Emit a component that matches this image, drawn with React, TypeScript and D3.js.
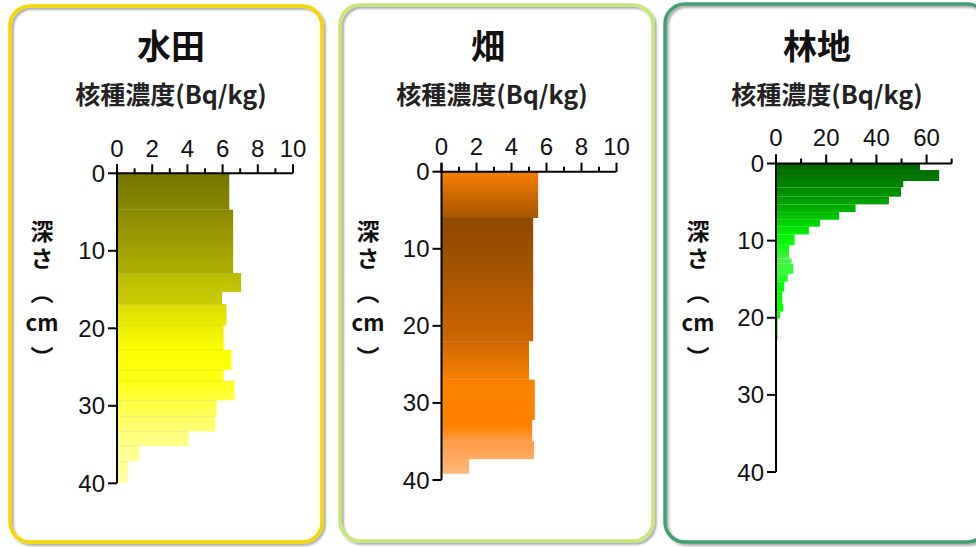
import React from 'react';
import * as d3 from 'd3';

// ---- Data (depth in cm, concentration in Bq/kg) ----
const titles = ['水田', '畑', '林地'];
const xAxisTitle = '核種濃度(Bq/kg)';
const yLabelTop = '深さ';
const yLabelRest = ['︵', 'cm', '︶'];

const paddyDepths = [0, 4.7, 12.9, 15.3, 16.9, 19.6, 22.8, 25.4, 26.8, 29.3, 31.4, 33.3, 35.2, 37.2, 40];
const paddyValues = [6.38, 6.6, 7.05, 5.97, 6.22, 6.06, 6.5, 6.06, 6.67, 5.66, 5.59, 4.07, 1.27, 0.64];

const fieldDepths = [0, 6, 22, 27, 32.2, 35, 37.3, 39.2];
const fieldValues = [5.52, 5.24, 5.0, 5.33, 5.18, 5.29, 1.58];

const forestDepths = [0, 0.85, 2.27, 3.1, 4.3, 5.3, 6.3, 7.3, 8.2, 9.2, 10.6, 12.3, 13.0, 14.3, 15.3, 16.6, 18.2, 19.2, 20.1, 22.9, 24.2];
const forestValues = [57.4, 65, 50.7, 49.8, 45.0, 31.7, 25.2, 17.5, 13.1, 7.4, 5.2, 6.2, 6.9, 4.7, 3.3, 2.5, 2.9, 1.6, 0.6, 0.3];

const paddyXTicks = [0, 2, 4, 6, 8, 10];
const forestXTicks = [0, 20, 40, 60];
const depthTicks = [0, 10, 20, 30, 40];

// ---- Styles / layout ----
const FONT = '"Liberation Sans", Arial, sans-serif';
const CJK = '"Noto Sans CJK JP", "Noto Sans", sans-serif';

type Panel = {
  title: string;
  depths: number[];
  values: number[];
  xMax: number;
  xStep: number;
  labelTicks: number[];
  box: { x: number; y: number; w: number; h: number };
  border: string;
  titleX: number;
  subX: number;
  px: [number, number];
  py: [number, number];
  tickLabelY: number;
  yLabelX: number;
  stops: [number, string][];
  seams: boolean;
};

const panels: Panel[] = [
  {
    title: titles[0], depths: paddyDepths, values: paddyValues, xMax: 10, xStep: 1, labelTicks: paddyXTicks,
    box: { x: 10, y: 6, w: 312, h: 536 }, border: '#f6d500', titleX: 171, subX: 171,
    px: [117, 293], py: [173.3, 483.3], tickLabelY: 148, yLabelX: 42,
    stops: [[0, '#747400'], [10, '#a2a200'], [12.9, '#aeae00'], [13, '#bcbc00'], [16.9, '#cccc00'], [17, '#dede00'], [20, '#eeee00'], [23, '#ffff00'], [27, '#ffff18'], [30, '#ffff48'], [34, '#ffff80'], [40, '#ffffaa']],
    seams: true,
  },
  {
    title: titles[1], depths: fieldDepths, values: fieldValues, xMax: 10, xStep: 1, labelTicks: paddyXTicks,
    box: { x: 340, y: 5, w: 313, h: 536 }, border: '#c6e874', titleX: 488, subX: 492,
    px: [441.5, 616.5], py: [171.7, 480], tickLabelY: 146.5, yLabelX: 368,
    stops: [[0, '#f88000'], [5.9, '#a85600'], [6, '#8f4800'], [12, '#a25200'], [20, '#c46200'], [22, '#d06800'], [24, '#e07200'], [27, '#fb8000'], [33, '#ff8200'], [35, '#ff9c45'], [39.2, '#ffb87a'], [40, '#ffb87a']],
    seams: true,
  },
  {
    title: titles[2], depths: forestDepths, values: forestValues, xMax: 70, xStep: 10, labelTicks: forestXTicks,
    box: { x: 665, y: 4, w: 322, h: 538 }, border: '#40a070', titleX: 817, subX: 827,
    px: [776, 951.7], py: [163.5, 472], tickLabelY: 137, yLabelX: 698,
    stops: [[0, '#006400'], [3, '#008600'], [6, '#00b000'], [9, '#00ee00'], [11, '#10ff10'], [12.3, '#48f048'], [14.3, '#30ff30'], [16, '#00ff00'], [40, '#00ff00']],
    seams: false,
  },
];

const yRestYs = [291, 321, 356];

function PanelView({ p, idx }: { p: Panel; idx: number }) {
  const x = d3.scaleLinear().domain([0, p.xMax]).range(p.px);
  const y = d3.scaleLinear().domain([0, 40]).range(p.py);
  const gid = `grad${idx}`;
  const bars = p.values.map((v, i) => ({ v, d0: p.depths[i], d1: p.depths[i + 1] }));
  const allTicks = d3.range(0, p.xMax + p.xStep / 2, p.xStep);
  const isMajor = (t: number) => p.labelTicks.some((l) => Math.abs(l - t) < 1e-9) || (p.xMax === 10 && Math.abs(t - 10) < 1e-9);

  return (
    <g>
      <defs>
        <linearGradient id={gid} gradientUnits="userSpaceOnUse" x1={0} x2={0} y1={y(0)} y2={y(40)}>
          {p.stops.map(([d, c], i) => (
            <stop key={i} offset={d / 40} stopColor={c} />
          ))}
        </linearGradient>
      </defs>
      <rect x={p.box.x} y={p.box.y} width={p.box.w} height={p.box.h} rx={20} ry={20} fill="#ffffff" />
      <rect x={p.box.x} y={p.box.y} width={p.box.w} height={p.box.h} rx={20} ry={20} fill="none"
        stroke={p.border} strokeWidth={3.5} filter="url(#shadow)" />
      <text x={p.titleX} y={44} textAnchor="middle" dominantBaseline="central" fontFamily={CJK} fontWeight="bold" fontSize={34} fill="#111">{p.title}</text>
      <text x={p.subX} y={93} textAnchor="middle" dominantBaseline="central" fontFamily={CJK} fontWeight="bold" fontSize={25} fill="#222">{xAxisTitle}</text>

      {/* bars */}
      {bars.map((b, i) => (
        <rect key={i} x={x(0)} y={y(b.d0)} width={x(b.v) - x(0)} height={y(b.d1) - y(b.d0)} fill={`url(#${gid})`} />
      ))}
      {p.seams && bars.slice(1).map((b, i) => (
        <line key={'s' + i} x1={x(0)} x2={x(b.v)} y1={y(b.d0)} y2={y(b.d0)} stroke="rgba(0,0,0,0.07)" strokeWidth={1} />
      ))}

      {/* top axis */}
      <line x1={x(0)} x2={x(p.xMax)} y1={y(0)} y2={y(0)} stroke="#000" strokeWidth={2} />
      {allTicks.map((t) => (
        <line key={'xt' + t} x1={x(t)} x2={x(t)} y1={y(0)} y2={y(0) - (isMajor(t) ? 9 : 5)} stroke="#000" strokeWidth={2} />
      ))}
      {p.labelTicks.map((t) => (
        <text key={'xl' + t} x={x(t)} y={p.tickLabelY} textAnchor="middle" dominantBaseline="central" fontFamily={FONT} fontSize={24} fill="#111">{t}</text>
      ))}

      {/* left axis */}
      <line x1={x(0)} x2={x(0)} y1={y(0) - 9} y2={y(40)} stroke="#000" strokeWidth={2} />
      {depthTicks.map((t) => (
        <line key={'yt' + t} x1={x(0) - 9} x2={x(0)} y1={y(t)} y2={y(t)} stroke="#000" strokeWidth={2} />
      ))}
      {depthTicks.map((t) => (
        <text key={'yl' + t} x={x(0) - 12} y={y(t)} textAnchor="end" dominantBaseline="central" fontFamily={FONT} fontSize={24} fill="#111">{t}</text>
      ))}

      {/* vertical y label */}
      <text x={p.yLabelX} y={220} writingMode="vertical-rl" style={{ writingMode: 'vertical-rl', letterSpacing: '4px' }}
        fontFamily={CJK} fontWeight="bold" fontSize={23} fill="#111">{yLabelTop}</text>
      {yLabelRest.map((s, i) => (
        <text key={'yy' + i} x={p.yLabelX} y={yRestYs[i]} textAnchor="middle" dominantBaseline="central"
          fontFamily={CJK} fontWeight="bold" fontSize={s === 'cm' ? 22 : 23} fill="#111">{s}</text>
      ))}
    </g>
  );
}

export default function App() {
  return (
    <svg width={976} height={547} viewBox="0 0 976 547" style={{ position: 'absolute', left: 0, top: 0, background: '#fff' }}>
      <defs>
        <filter id="shadow" x="-5%" y="-5%" width="110%" height="110%">
          <feDropShadow dx={2} dy={2} stdDeviation={1.3} floodColor="#000" floodOpacity={0.35} />
        </filter>
      </defs>
      <rect x={0} y={0} width={976} height={547} fill="#fff" />
      {panels.map((p, i) => (
        <PanelView key={i} p={p} idx={i} />
      ))}
    </svg>
  );
}
